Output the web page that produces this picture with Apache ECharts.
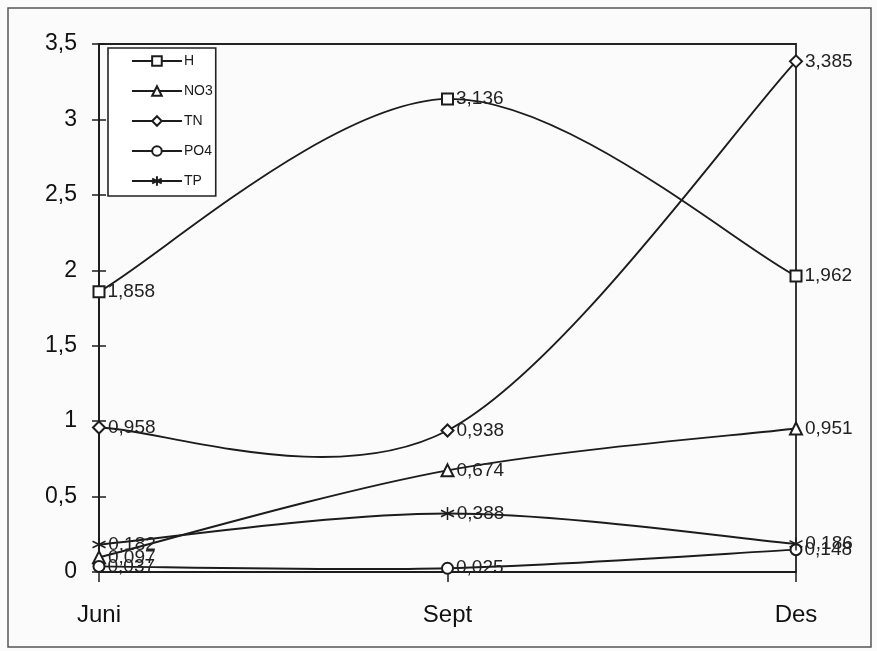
<!DOCTYPE html>
<html>
<head>
<meta charset="utf-8">
<script src="https://cdn.jsdelivr.net/npm/echarts@6/dist/echarts.min.js"></script>
<style>
  html, body { margin: 0; padding: 0; background: #fbfbfb; }
  #chart { width: 877px; height: 651px; }
</style>
</head>
<body>
<div id="chart"></div>
<script>
// Sampling months
const months = ['Juni', 'Sept', 'Des'];

// Measured concentrations per parameter
const valuesH   = [1.858, 3.136, 1.962];
const valuesNO3 = [0.097, 0.674, 0.951];
const valuesTN  = [0.958, 0.938, 3.385];
const valuesPO4 = [0.037, 0.025, 0.148];
const valuesTP  = [0.182, 0.388, 0.186];

// Y axis range
const yMin = 0;
const yMax = 3.5;
const yStep = 0.5;

const ink = '#1c1c1c';
const font = 'Liberation Sans, Arial, sans-serif';
const starPath = 'path://M0,-10L0,10M-8.66,-5L8.66,5M-8.66,5L8.66,-5';

const commaNum = v => String(v).replace('.', ',');

// Catmull-Rom style smoothed curve through the projected points
function curveSeries(name, values) {
  return {
    name: name + ' kurva',
    type: 'custom',
    coordinateSystem: 'cartesian2d',
    data: values.map((v, i) => [i, v]),
    silent: true,
    z: 1,
    renderItem: function (params, api) {
      if (params.dataIndex !== 0) return null;
      const pts = values.map((v, i) => api.coord([i, v]));
      const n = pts.length;
      const P = i => pts[Math.max(0, Math.min(n - 1, i))];
      let d = 'M' + pts[0][0] + ',' + pts[0][1];
      for (let i = 0; i < n - 1; i++) {
        const p0 = P(i - 1), p1 = P(i), p2 = P(i + 1), p3 = P(i + 2);
        const c1x = p1[0] + (p2[0] - p0[0]) / 6;
        const c1y = p1[1] + (p2[1] - p0[1]) / 6;
        const c2x = p2[0] - (p3[0] - p1[0]) / 6;
        const c2y = p2[1] - (p3[1] - p1[1]) / 6;
        d += 'C' + c1x + ',' + c1y + ',' + c2x + ',' + c2y + ',' + p2[0] + ',' + p2[1];
      }
      return {
        type: 'path',
        shape: { pathData: d, layout: 'cover' },
        style: { fill: null, stroke: ink, lineWidth: 1.9 }
      };
    }
  };
}

// Markers and value labels
function pointSeries(name, data, symbol, size) {
  return {
    name: name,
    type: 'line',
    data: data,
    symbol: symbol,
    symbolSize: size,
    showAllSymbol: true,
    z: 3,
    lineStyle: { color: ink, width: 1.9, opacity: 0 },
    itemStyle: { color: ink, borderColor: ink, borderWidth: 1.5 },
    label: {
      show: true,
      position: 'right',
      distance: 2,
      color: '#222',
      fontFamily: font,
      fontSize: 19,
      formatter: p => commaNum(p.value)
    },
    emphasis: { disabled: true }
  };
}

const legendNames = ['H', 'NO3', 'TN', 'PO4', 'TP'];

const chart = echarts.init(document.getElementById('chart'));
chart.setOption({
  animation: false,
  backgroundColor: '#fbfbfb',
  grid: {
    left: 99, right: 81, top: 44, bottom: 79,
    show: true, borderColor: '#222', borderWidth: 1.8, backgroundColor: 'transparent'
  },
  graphic: [{
    type: 'rect',
    shape: { x: 8, y: 8, width: 863, height: 639 },
    style: { fill: 'none', stroke: '#555', lineWidth: 1.5 },
    silent: true,
    z: -1
  }],
  legend: {
    orient: 'vertical',
    left: 108,
    top: 48,
    padding: [6, 3, 8, 23],
    itemGap: 16,
    itemWidth: 50,
    itemHeight: 12,
    backgroundColor: '#fff',
    borderColor: '#222',
    borderWidth: 1.6,
    textStyle: { color: '#1a1a1a', fontFamily: font, fontSize: 14, padding: [0, 0, 0, -3] },
    data: legendNames.map(n => ({ name: n, lineStyle: { opacity: 1, width: 1.9, color: ink } }))
  },
  xAxis: {
    type: 'category',
    data: months,
    boundaryGap: false,
    axisLine: { lineStyle: { color: ink, width: 1.8 } },
    axisTick: { show: true, length: 10, lineStyle: { color: ink, width: 1.5 } },
    axisLabel: { color: '#111', fontFamily: font, fontSize: 24, margin: 31 },
    splitLine: { show: false }
  },
  yAxis: [{
    type: 'value',
    min: yMin,
    max: yMax,
    interval: yStep,
    axisLine: { show: true, lineStyle: { color: ink, width: 1.8 } },
    axisTick: { show: true, length: 7, lineStyle: { color: ink, width: 1.5 } },
    axisLabel: {
      color: '#111', fontFamily: font, fontSize: 23, margin: 22,
      formatter: v => commaNum(v)
    },
    splitLine: { show: false }
  }, {
    type: 'value',
    position: 'left',
    min: yMin,
    max: yMax,
    interval: yStep,
    axisLine: { show: false },
    axisTick: { show: true, inside: true, length: 7, lineStyle: { color: ink, width: 1.5 } },
    axisLabel: { show: false },
    splitLine: { show: false }
  }],
  series: [
    curveSeries('H', valuesH),
    curveSeries('NO3', valuesNO3),
    curveSeries('TN', valuesTN),
    curveSeries('PO4', valuesPO4),
    curveSeries('TP', valuesTP),
    pointSeries('H', valuesH, 'emptyRect', 11),
    pointSeries('NO3', valuesNO3, 'emptyTriangle', 12),
    pointSeries('TN', valuesTN, 'emptyDiamond', 12),
    pointSeries('PO4', valuesPO4, 'emptyCircle', 11),
    pointSeries('TP', valuesTP, starPath, 13)
  ]
});
</script>
</body>
</html>
